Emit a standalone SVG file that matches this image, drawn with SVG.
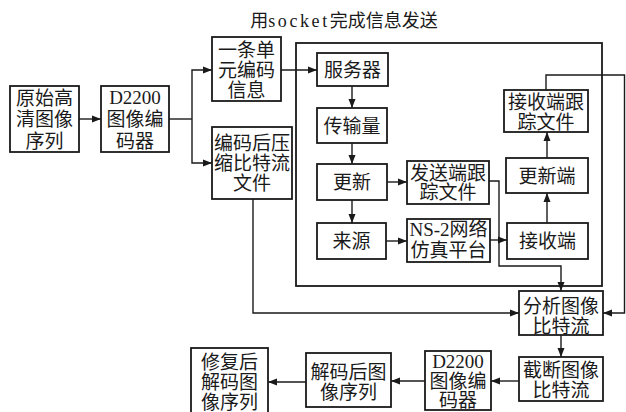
<svg xmlns="http://www.w3.org/2000/svg" width="626" height="412" viewBox="0 0 626 412">
<defs>
<marker id="ah" markerWidth="9" markerHeight="8" refX="9" refY="4" orient="auto" markerUnits="userSpaceOnUse">
<path d="M0,0.5 L9,4 L0,7.5 z" fill="#1a1a1a"/>
</marker>
<style>
rect{fill:#fff;stroke:#1a1a1a;stroke-width:1.8}
text{font-family:"Liberation Serif","Noto Sans CJK SC",serif;font-size:19px;fill:#1a1a1a;text-anchor:middle}
#connectors path{fill:none;stroke:#1a1a1a;stroke-width:1.4}
.arr{marker-end:url(#ah)}
#container rect{fill:none}
</style>
</defs>
<rect x="0" y="0" width="626" height="412" style="fill:#fff;stroke:none"/>
<text x="344" y="27" style="font-size:18px">用<tspan letter-spacing="2.6">socket</tspan>完成信息发送</text>
<g id="container"><rect x="296" y="43" width="306" height="243"/></g>
<g id="connectors">
<path class="arr" d="M79,119 H101"/>
<path d="M169,119 H192"/>
<path class="arr" d="M192,119 V70 H212"/>
<path class="arr" d="M192,119 V163 H212"/>
<path class="arr" d="M281,70 H317"/>
<path class="arr" d="M352,86 V108"/>
<path class="arr" d="M352,143 V164"/>
<path class="arr" d="M352,200 V223"/>
<path class="arr" d="M387,182 H407"/>
<path class="arr" d="M386,241 H407"/>
<path class="arr" d="M490,240 H507"/>
<path class="arr" d="M489,181 H499 V266 H561 V291"/>
<path class="arr" d="M547,223 V193"/>
<path class="arr" d="M547,158 V132"/>
<path class="arr" d="M546,90 V75 H624.5 V313 H603"/>
<path class="arr" d="M253,199 V313 H519"/>
<path class="arr" d="M561,335 V357"/>
<path class="arr" d="M519,381 H491"/>
<path class="arr" d="M425,381 H391"/>
<path class="arr" d="M306,382 H268"/>
</g>
<g id="n1"><rect x="10" y="86" width="69" height="66"/><text x="44.5" y="104.5">原始高</text><text x="44.5" y="126">清图像</text><text x="44.5" y="147.5">序列</text></g>
<g id="n2"><rect x="101" y="86" width="68" height="66"/><text x="135" y="104">D2200</text><text x="135" y="126">图像编</text><text x="135" y="147.5">码器</text></g>
<g id="n3"><rect x="212" y="37" width="69" height="64"/><text x="246.5" y="56.5">一条单</text><text x="246.5" y="77">元编码</text><text x="246.5" y="96.5">信息</text></g>
<g id="n4"><rect x="212" y="127" width="80" height="72"/><text x="252" y="150">编码后压</text><text x="252" y="170">缩比特流</text><text x="252" y="190">文件</text></g>
<g id="n5"><rect x="317" y="53" width="71" height="33"/><text x="352.5" y="76.5">服务器</text></g>
<g id="n6"><rect x="317" y="108" width="70" height="35"/><text x="352" y="132.5">传输量</text></g>
<g id="n7"><rect x="317" y="164" width="70" height="36"/><text x="352" y="189">更新</text></g>
<g id="n8"><rect x="407" y="161" width="82" height="43"/><text x="448" y="179.5">发送端跟</text><text x="448" y="199">踪文件</text></g>
<g id="n9"><rect x="317" y="223" width="69" height="36"/><text x="351.5" y="248">来源</text></g>
<g id="n10"><rect x="407" y="219" width="83" height="43"/><text x="448.5" y="236">NS-2网络</text><text x="448.5" y="257">仿真平台</text></g>
<g id="n11"><rect x="504" y="90" width="84" height="42"/><text x="546" y="108.5">接收端跟</text><text x="546" y="128.5">踪文件</text></g>
<g id="n12"><rect x="506" y="158" width="82" height="35"/><text x="547" y="182.5">更新端</text></g>
<g id="n13"><rect x="507" y="223" width="81" height="36"/><text x="547.5" y="248">接收端</text></g>
<g id="n14"><rect x="519" y="291" width="84" height="44"/><text x="561" y="313">分析图像</text><text x="561" y="333">比特流</text></g>
<g id="n15"><rect x="519" y="357" width="84" height="44"/><text x="561" y="377">截断图像</text><text x="561" y="397">比特流</text></g>
<g id="n16"><rect x="425" y="351" width="66" height="59"/><text x="458" y="367.5">D2200</text><text x="458" y="387.5">图像编</text><text x="458" y="407">码器</text></g>
<g id="n17"><rect x="306" y="353" width="85" height="54"/><text x="348.5" y="379">解码后图</text><text x="348.5" y="399">像序列</text></g>
<g id="n18"><rect x="191" y="348" width="77" height="66"/><text x="229.5" y="369">修复后</text><text x="229.5" y="389">解码图</text><text x="229.5" y="408.5">像序列</text></g>
</svg>
